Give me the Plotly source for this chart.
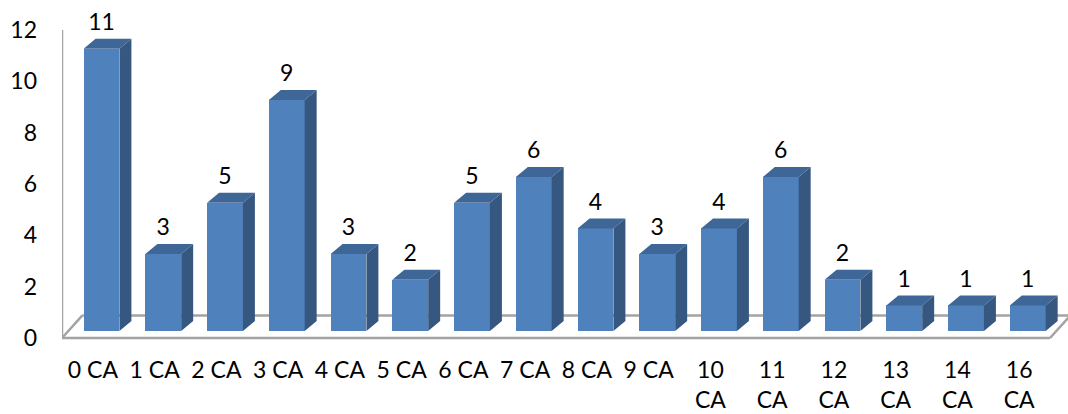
import plotly.graph_objects as go

# Category labels and counts
categories = ["0 CA", "1 CA", "2 CA", "3 CA", "4 CA", "5 CA", "6 CA", "7 CA",
              "8 CA", "9 CA", "10<br>CA", "11<br>CA", "12<br>CA", "13<br>CA",
              "14<br>CA", "16<br>CA"]
counts = [11, 3, 5, 9, 3, 2, 5, 6, 4, 3, 4, 6, 2, 1, 1, 1]
y_ticks = [0, 2, 4, 6, 8, 10, 12]

# Pseudo-3D geometry (axis units)
BAR_OFF = -0.15      # front face start relative to category centre
BAR_W = 0.58         # front face width
DEPTH_X = 0.194      # horizontal depth of each column
DEPTH_Y = 0.39       # vertical depth of each column
BASE = 0.27          # columns stand a little behind the front floor edge
FLOOR_DX = 0.33
FLOOR_DY = 0.88

FRONT = "#4F81BD"
SIDE = "#36577F"
TOP = "#3E6696"
AXIS_GREY = "#A3A3A3"
FONT = "Lato"
FONT_SIZE = 23

xs = list(range(len(categories)))

fig = go.Figure()

# Front faces
fig.add_trace(go.Bar(
    x=xs, y=counts, base=BASE, width=BAR_W, offset=BAR_OFF,
    marker=dict(color=FRONT, line=dict(width=0)),
    hoverinfo="skip", showlegend=False,
))

# Side and top faces as filled polygons
side_x, side_y, top_x, top_y = [], [], [], []
for x, v in zip(xs, counts):
    x0 = x + BAR_OFF
    x1 = x0 + BAR_W
    yt = v + BASE
    side_x += [x1, x1, x1 + DEPTH_X, x1 + DEPTH_X, x1, None]
    side_y += [BASE, yt, yt + DEPTH_Y, BASE + DEPTH_Y, BASE, None]
    top_x += [x0, x0 + DEPTH_X, x1 + DEPTH_X, x1, x0, None]
    top_y += [yt, yt + DEPTH_Y, yt + DEPTH_Y, yt, yt, None]

fig.add_trace(go.Scatter(x=side_x, y=side_y, mode="lines", fill="toself",
                         fillcolor=SIDE, line=dict(width=0, color=SIDE),
                         hoverinfo="skip", showlegend=False))
fig.add_trace(go.Scatter(x=top_x, y=top_y, mode="lines", fill="toself",
                         fillcolor=TOP, line=dict(width=0, color=TOP),
                         hoverinfo="skip", showlegend=False))

# Value labels above each column
fig.add_trace(go.Scatter(
    x=[x + BAR_OFF + BAR_W / 2 for x in xs],
    y=[v + BASE + DEPTH_Y + 0.12 for v in counts],
    mode="text", text=[str(v) for v in counts], textposition="top center",
    textfont=dict(family=FONT, size=FONT_SIZE, color="black"),
    cliponaxis=False, hoverinfo="skip", showlegend=False,
))

# Floor and wall outline
n = len(categories)
line = dict(color=AXIS_GREY, width=2.5)
shapes = [
    dict(type="line", x0=-0.5, y0=0, x1=-0.5, y1=12, line=line, layer="below"),
    dict(type="line", x0=-0.5, y0=0, x1=n - 0.5, y1=0, line=line, layer="below"),
    dict(type="line", x0=-0.5, y0=0, x1=-0.5 + FLOOR_DX, y1=FLOOR_DY, line=line, layer="below"),
    dict(type="line", x0=-0.5 + FLOOR_DX, y0=FLOOR_DY, x1=n + 0.5, y1=FLOOR_DY, line=line, layer="below"),
    dict(type="line", x0=n - 0.5, y0=0, x1=n - 0.5 + FLOOR_DX, y1=FLOOR_DY, line=line, layer="below"),
]
for s in shapes:
    s.update(xref="x", yref="y")

fig.update_layout(
    width=1068, height=414,
    margin=dict(l=62, r=0, t=10, b=64, autoexpand=False),
    plot_bgcolor="white", paper_bgcolor="white",
    shapes=shapes,
    bargap=0,
    xaxis=dict(
        range=[-0.5, -0.5 + 1006 / 61.75],
        tickmode="array", tickvals=xs, ticktext=categories,
        showgrid=False, zeroline=False, showline=False, ticks="",
        tickfont=dict(family=FONT, size=FONT_SIZE, color="black"),
        ticklabelstandoff=4, tickangle=0, automargin=False,
    ),
    yaxis=dict(
        range=[-12 / 25.67, 328 / 25.67],
        tickmode="array", tickvals=y_ticks,
        showgrid=False, zeroline=False, showline=False, ticks="",
        tickfont=dict(family=FONT, size=FONT_SIZE, color="black"),
        ticklabelstandoff=24, automargin=False,
    ),
)

fig.write_html("out.html")
